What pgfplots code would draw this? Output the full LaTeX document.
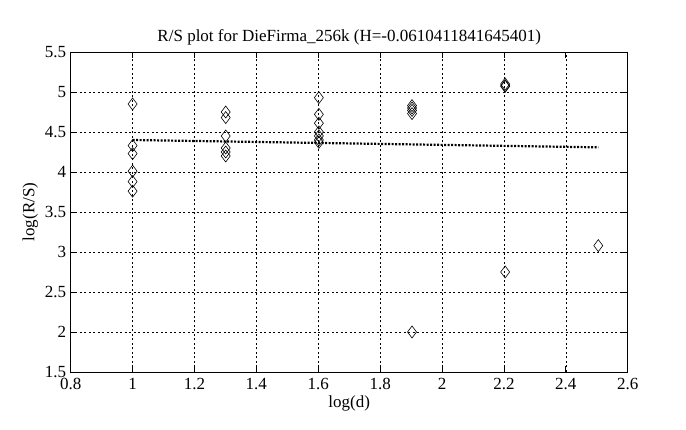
\documentclass[border=0pt]{standalone}
\usepackage{pgfplots}
\pgfplotsset{compat=1.18}
\usepackage{fontspec}
\setmainfont{Liberation Serif}
\begin{document}
\begin{tikzpicture}
\path[use as bounding box] (0,0) rectangle (686pt,430pt);
\begin{axis}[
  at={(70.7pt,58pt)}, anchor=south west,
  width=557pt, height=320pt, scale only axis,
  xmin=0.8, xmax=2.6, ymin=1.5, ymax=5.5,
  xtick={0.8,1,...,2.6}, ytick={1.5,2,...,5.5},
  xticklabels={0.8,1,1.2,1.4,1.6,1.8,2,2.2,2.4,2.6},
  yticklabels={1.5,2,2.5,3,3.5,4,4.5,5,5.5},
  /pgf/number format/assume math mode=true,
  tick label style={font=\fontsize{17}{20}\selectfont},
  xticklabel style={yshift=-3pt},
  yticklabel style={xshift=-1pt},
  label style={font=\fontsize{17}{20}\selectfont},
  title style={font=\fontsize{17}{20}\selectfont, yshift=-3pt},
  title={R/S plot for DieFirma\_256k (H=-0.0610411841645401)},
  xlabel={log(d)}, ylabel={log(R/S)},
  xlabel style={yshift=1pt},
  ylabel style={yshift=0pt},
  grid=major,
  major grid style={black, line width=0.6pt, dash pattern=on 2pt off 2.5pt},
  tick align=inside, major tick length=6pt,
  tick style={black, line width=0.8pt},
  axis line style={black, line width=0.8pt},
  xtick pos=both, ytick pos=both,
  clip=false,
]
\addplot[only marks, mark=diamond, mark size=6pt, mark options={black, line width=0.6pt, fill=none}] coordinates {
(1,4.85) (1,4.33) (1,4.23) (1,4.01) (1,3.88) (1,3.76)
(1.301,4.75) (1.301,4.68) (1.301,4.45) (1.301,4.30) (1.301,4.25) (1.301,4.20)
(1.602,4.93) (1.602,4.72) (1.602,4.61) (1.602,4.50) (1.602,4.45) (1.602,4.40) (1.602,4.37)
(1.903,4.83) (1.903,4.80) (1.903,4.77) (1.903,4.73) (1.903,2.00)
(2.204,5.10) (2.204,5.08) (2.204,5.07) (2.204,2.75)
(2.505,3.08)
};
\addplot[black, line width=2.2pt, dash pattern=on 2pt off 1.5pt, no marks] coordinates {
(1,4.40) (2.505,4.308)
};
\end{axis}
\end{tikzpicture}
\end{document}
